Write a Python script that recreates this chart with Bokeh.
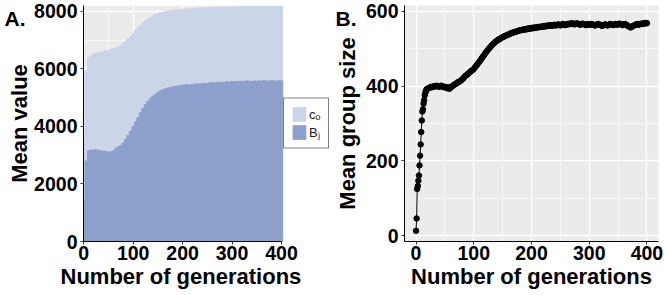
import math
from bokeh.plotting import figure
from bokeh.models import Range1d, FixedTicker, Label, Legend, LegendItem, Title
from bokeh.layouts import row
from bokeh.embed import file_html
from bokeh.resources import INLINE

FONT = "Liberation Sans"

# ---------------- Panel A data ----------------
gen_a = list(range(0, 401, 5))
c_o = [3500, 5900, 6380, 6450, 6520, 6540, 6580, 6560, 6610, 6630,
       6620, 6670, 6700, 6720, 6760, 6800, 6880, 6960, 7040, 7120,
       7220, 7320, 7420, 7510, 7590, 7660, 7730, 7790, 7840, 7880,
       7910, 7940, 7960, 7980, 8000, 8010, 8020, 8040, 8040, 8060,
       8070, 8070, 8090, 8080, 8100, 8110, 8100, 8120, 8120, 8130,
       8120, 8140, 8130, 8140, 8150, 8140, 8150, 8140, 8160, 8150,
       8140, 8160, 8150, 8160, 8150, 8170, 8160, 8150, 8160, 8170,
       8160, 8150, 8170, 8160, 8170, 8160, 8170, 8160, 8170, 8180,
       8170]
b_j = [1400, 2800, 3150, 3180, 3170, 3190, 3160, 3150, 3140, 3130,
       3100, 3120, 3150, 3240, 3290, 3330, 3420, 3550, 3690, 3840,
       3990, 4150, 4310, 4470, 4620, 4750, 4870, 4970, 5050, 5120,
       5180, 5230, 5270, 5300, 5330, 5350, 5370, 5390, 5400, 5420,
       5430, 5440, 5450, 5440, 5460, 5470, 5480, 5470, 5490, 5500,
       5490, 5510, 5520, 5510, 5530, 5520, 5540, 5530, 5550, 5540,
       5560, 5550, 5570, 5560, 5570, 5560, 5580, 5570, 5560, 5580,
       5570, 5580, 5570, 5590, 5580, 5570, 5590, 5580, 5570, 5590,
       5580]
a_xticks = [0, 100, 200, 300, 400]
a_xminor = [50, 150, 250, 350]
a_yticks = [0, 2000, 4000, 6000, 8000]
a_yminor = [1000, 3000, 5000, 7000]
labels_a = ["c\u2092", "B\u2c7c"]

# ---------------- Panel B data ----------------
gen_b = list(range(0, 21)) + list(range(22, 401, 2))
group_size = [13, 46, 125, 133, 147, 161, 188, 214, 244, 277,
              308, 332, 338, 353, 362, 375, 381, 387, 390, 392, 393,
              395, 396, 398, 397, 399, 400, 399, 401, 400, 398,
              400, 401, 399, 397, 398, 396, 394, 397, 393, 396,
              399, 401, 404, 405, 407, 410, 411, 413, 415, 418,
              421, 425, 428, 430, 433, 436, 438, 441, 443, 446,
              450, 454, 458, 462, 466, 470, 475, 479, 483, 488,
              492, 496, 500, 503, 507, 510, 513, 516, 519, 521,
              524, 525, 527, 529, 531, 532, 534, 535, 537, 538,
              539, 541, 542, 543, 544, 545, 546, 547, 548, 549,
              550, 550, 551, 552, 551, 553, 554, 553, 555, 554,
              556, 555, 557, 556, 558, 557, 558, 559, 558, 560,
              559, 561, 560, 562, 561, 563, 562, 561, 563, 564,
              562, 563, 565, 564, 562, 564, 566, 565, 563, 564,
              566, 565, 567, 566, 568, 567, 565, 566, 568, 567,
              566, 564, 565, 567, 566, 565, 563, 564, 566, 565,
              564, 566, 565, 563, 562, 564, 565, 566, 564, 563,
              561, 562, 564, 565, 563, 562, 564, 566, 565, 564,
              563, 565, 566, 564, 565, 567, 566, 564, 563, 565,
              566, 564, 562, 560, 558, 557, 559, 561, 562, 564,
              565, 566, 564, 566, 567, 566, 568, 567, 569, 568]
b_xticks = [0, 100, 200, 300, 400]
b_xminor = [50, 150, 250, 350]
b_yticks = [0, 200, 400, 600]
b_yminor = [100, 300, 500]

LIGHT = "#CBD5E8"
DARK = "#8DA0CB"
PANEL_BG = "#EBEBEB"
H = 295
TOP = 5
BOTTOM = 54
FH = H - TOP - BOTTOM  # 236


def style(p, xt, xm, yt, ym):
    p.border_fill_color = "white"
    p.outline_line_color = None
    p.xaxis.ticker = FixedTicker(ticks=xt, minor_ticks=xm)
    p.yaxis.ticker = FixedTicker(ticks=yt, minor_ticks=ym)
    for g in (p.xgrid, p.ygrid):
        g.grid_line_color = "white"
        g.grid_line_width = 1.3
        g.minor_grid_line_color = "white"
        g.minor_grid_line_width = 0.6
    for ax in (p.xaxis, p.yaxis):
        ax.axis_line_color = "black"
        ax.axis_line_width = 1
        ax.major_tick_line_color = "#333333"
        ax.major_tick_out = 3
        ax.major_tick_in = 0
        ax.minor_tick_out = 0
        ax.minor_tick_in = 0
        ax.minor_tick_line_color = None
        ax.major_label_text_font = FONT
        ax.major_label_text_font_size = "19.5px"
        ax.major_label_text_font_style = "bold"
        ax.major_label_text_color = "black"
    p.yaxis.major_label_standoff = 3
    p.xaxis.major_label_standoff = 1


def x_title(p, text, align, offset):
    p.add_layout(Title(text=text, align=align, offset=offset, standoff=2,
                       vertical_align="top", text_font=FONT, text_font_size="22px",
                       text_font_style="bold", text_color="black"), "below")


def text_fig(width):
    f = figure(width=width, height=H, output_backend="svg", toolbar_location=None,
               x_range=Range1d(0, width), y_range=Range1d(0, FH),
               x_axis_location=None, y_axis_location=None,
               min_border_left=0, min_border_right=0,
               min_border_top=TOP, min_border_bottom=BOTTOM)
    f.outline_line_color = None
    f.background_fill_color = "white"
    f.border_fill_color = "white"
    f.grid.visible = False
    return f


def add_text(f, text, x, y_from_top, size, angle=0.0, align="left"):
    # (x, y_from_top): pixel position of the text's middle inside the text canvas
    f.add_layout(Label(x=x, y=TOP + FH - y_from_top, text=text, text_font=FONT,
                       text_font_size=size, text_font_style="bold",
                       text_color="black", text_align=align,
                       text_baseline="middle", angle=angle))


# ---------------- left texts (A.) ----------------
L1_W = 31
l1 = text_fig(L1_W)
add_text(l1, "A.", 4, 17.7, "21px")
add_text(l1, "Mean value", 19.0, 123, "22px", angle=math.pi / 2, align="center")

# ---------------- Panel A ----------------
A_PLOT_L = 82          # page x of frame left
A_BORDER = A_PLOT_L - L1_W
A_FIG_R = 332          # page x where figure A ends (frame extends here)
A_DATA_R = 281         # page x where data area ends
ax0, ax1 = -0.5, 400.5
scale_a = (A_DATA_R - A_PLOT_L) / (ax1 - ax0)
ax_end = ax0 + (A_FIG_R - A_PLOT_L) / scale_a
pa = figure(width=A_FIG_R - L1_W, height=H, output_backend="svg", toolbar_location=None,
            x_range=Range1d(ax0, ax_end), y_range=Range1d(0, 8200),
            min_border_left=A_BORDER, min_border_right=0, min_border_top=TOP,
            min_border_bottom=BOTTOM)
style(pa, a_xticks, a_xminor, a_yticks, a_yminor)
pa.background_fill_color = "white"
pa.xaxis.bounds = (ax0, ax1)
pa.xgrid.bounds = (ax0, ax1)
x_title(pa, "Number of generations", "left", 59 - A_PLOT_L)
pa.quad(left=[ax0], right=[ax1], bottom=[0], top=[8200], fill_color=PANEL_BG,
        line_color=None, level="image")
r_light = pa.vbar(x=gen_a, width=5, top=c_o, bottom=0, fill_color=LIGHT,
                  line_color=LIGHT, line_width=1)
r_dark = pa.vbar(x=gen_a, width=5, top=b_j, bottom=0, fill_color=DARK,
                 line_color=DARK, line_width=1)

leg = Legend(items=[LegendItem(label=labels_a[0], renderers=[r_light]),
                    LegendItem(label=labels_a[1], renderers=[r_dark])],
             location="center_right", margin=3, padding=7, spacing=0,
             glyph_width=16, glyph_height=17, label_height=17, label_width=12,
             label_standoff=2, label_text_font=FONT, label_text_font_size="13px",
             label_text_color="#1a1a1a",
             border_line_color="black", border_line_width=1,
             background_fill_color="white", background_fill_alpha=1)
pa.add_layout(leg)

# ---------------- middle texts (B.) ----------------
L2_W = 30
l2 = text_fig(L2_W)
add_text(l2, "B.", 335 - A_FIG_R, 17.7, "21px")
add_text(l2, "Mean group size", 347.3 - A_FIG_R, 123, "22px", angle=math.pi / 2,
         align="center")

# ---------------- Panel B ----------------
B_FIG_L = A_FIG_R + L2_W
B_PLOT_L, B_PLOT_R = 403, 658
bx0, bx1 = -20, 420
by0, by1 = -15.5, 615.5
pb = figure(width=664 - B_FIG_L, height=H, output_backend="svg", toolbar_location=None,
            x_range=Range1d(bx0, bx1), y_range=Range1d(by0, by1),
            min_border_left=B_PLOT_L - B_FIG_L, min_border_right=664 - B_PLOT_R,
            min_border_top=TOP, min_border_bottom=BOTTOM)
style(pb, b_xticks, b_xminor, b_yticks, b_yminor)
pb.background_fill_color = PANEL_BG
x_title(pb, "Number of generations", "center", 0)
pb.line(gen_b, group_size, line_color="black", line_width=1)
pb.scatter(gen_b, group_size, size=5.5, fill_color="black", line_color="black")

layout = row(l1, pa, l2, pb)
open("out.html", "w").write(file_html(layout, INLINE))
